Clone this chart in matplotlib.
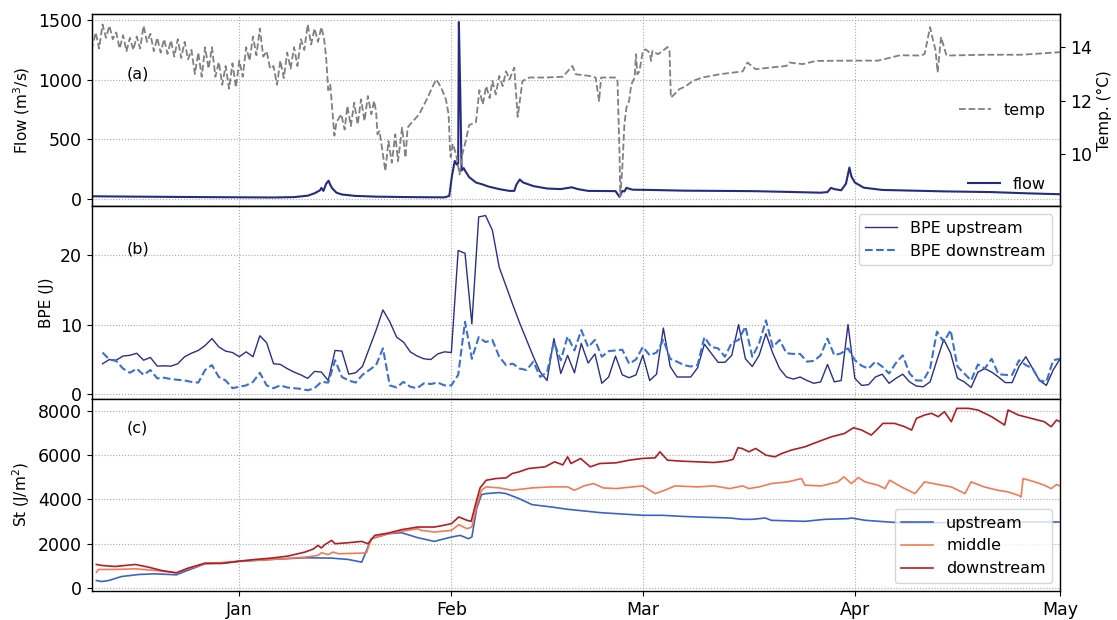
import numpy as np
import pandas as pd
import matplotlib
matplotlib.use('Agg')
import matplotlib.pyplot as plt
import matplotlib.dates as mdates

# time axis: days counted from 1 Jan 2017 (negative = December 2016)
T0 = pd.Timestamp('2017-01-01')

# ---- panel (a): river flow and water temperature ----
flow_days = [-21.6, -15, -5, 5, 8, 10, 11, 11.8, 12.0, 12.3, 12.7, 13.05, 13.3, 13.6, 14.2,
             15, 17, 20, 25, 30, 30.7, 31.1, 31.5, 31.8, 32.0, 32.1, 32.3, 32.5, 32.8, 33.1,
             33.6, 34.6, 35.5, 36.5, 38, 39.5, 40.2, 40.5, 41.0, 41.5, 43, 45, 47, 48.6,
             49.5, 51, 55, 55.6, 56.0, 56.3, 56.6, 57.5, 60, 65, 70, 75, 80, 85, 86.0,
             86.5, 87.0, 88.0, 88.7, 89.0, 89.2, 89.5, 90, 91.3, 94, 100, 103, 110, 115, 120]
flow_vals = [25, 22, 18, 15, 18, 30, 50, 75, 95, 70, 130, 155, 120, 90, 55,
             40, 28, 22, 18, 16, 28, 200, 320, 290, 300, 1480, 900, 240, 260, 230,
             185, 140, 125, 105, 85, 70, 70, 120, 165, 140, 110, 90, 85, 100,
             85, 70, 68, 20, 70, 65, 95, 80, 78, 72, 70, 68, 62, 55, 60,
             95, 85, 75, 130, 210, 265, 190, 140, 97, 78, 70, 66, 60, 50, 42]

temp_days = [-21.6, -21.0, -20.5, -20.0, -19.5, -19.0, -18.5, -18.0, -17.5, -17.0, -16.5,
             -16.0, -15.5, -15.0, -14.5, -14.0, -13.5, -13.0, -12.5, -12.0, -11.5, -11.0,
             -10.5, -10.0, -9.5, -9.0, -8.5, -8.0, -7.5, -7.0, -6.5, -6.0, -5.5, -5.0,
             -4.5, -4.0, -3.5, -3.0, -2.5, -2.0, -1.5, -1.0, -0.5, 0.0, 0.5, 1.0, 1.5,
             2.0, 2.5, 3.0, 3.5, 4.0, 4.5, 5.0, 5.5, 6.0, 6.5, 7.0, 7.5, 8.0, 8.5, 9.0,
             9.5, 10.0, 10.5, 11.0, 11.5, 12.0, 12.4, 12.7, 13.0, 13.3, 13.9, 14.2,
             14.9, 15.4, 15.8, 16.3, 16.8, 17.3, 17.8, 18.3, 18.8, 19.3, 19.7, 20.0,
             20.2, 20.5, 21.35, 21.8, 22.3, 22.8, 23.2, 23.8, 24.3, 24.6, 24.9, 26.3,
             27.3, 28.3, 28.8, 29.5, 30.2, 30.6, 30.8, 30.9, 31.2, 31.7, 32.2, 32.6,
             33.1, 33.6, 34.6, 35.1, 35.6, 36.1, 36.6, 37.0, 37.5, 38.0, 38.5, 39.0,
             39.5, 40.2, 40.7, 41.4, 42.4, 44.8, 47.3, 48.7, 49.2, 51.2, 52.1, 52.6,
             52.9, 55.1, 55.3, 55.6, 55.7, 56.0, 56.3, 56.6, 57.0, 57.3, 57.8, 58.0,
             58.2, 58.5, 59.0, 59.4, 60.0, 60.2, 60.4, 61.2, 61.9, 62.6, 62.9, 63.1,
             63.6, 64.3, 65.3, 66.3, 67.7, 70.2, 73.6, 74.3, 75.5, 77.5, 80.0, 80.4,
             82.4, 84.3, 90.0, 93.4, 96.6, 99.7, 100.2, 101.0, 101.4, 101.8, 102.1,
             102.6, 103.4, 109.2, 114.4, 119.7, 120.0]
temp_vals = [13.9, 14.55, 13.95, 14.85, 14.35, 14.8, 14.3, 14.55, 13.95, 14.45, 13.85,
             14.35, 13.9, 14.4, 13.95, 14.8, 14.2, 14.5, 13.85, 14.35, 13.8, 14.3,
             13.75, 14.25, 13.65, 14.3, 13.6, 14.2, 13.55, 13.9, 13.0, 13.8, 12.9, 14.0,
             13.2, 14.0, 12.9, 13.45, 12.6, 13.3, 12.45, 13.4, 12.5, 13.5, 12.9, 14.0, 13.5,
             14.4, 13.7, 14.7, 13.65, 13.85, 13.2, 13.3, 12.6, 13.5, 12.85, 13.8, 13.2, 14.0, 13.3, 14.3,
             13.9, 14.85, 14.1, 14.7, 14.2, 14.75, 14.3, 13.6, 12.4, 12.6, 10.7, 11.2,
             11.5, 10.93, 11.81, 11.06, 11.93, 11.12, 12.06, 11.25, 12.18, 11.5, 12.0, 11.6,
             10.75, 10.87, 9.38, 10.5, 9.69, 10.75, 9.75, 11.0, 9.88, 11.0, 11.1, 11.5,
             12.0, 12.55, 12.8, 12.5, 12.06, 11.5, 10.25, 9.9, 10.4, 10.0, 9.25, 10.0,
             10.5, 11.1, 11.2, 12.4, 11.87, 12.55, 12.1, 12.74, 12.24, 12.93, 12.55, 13.1,
             12.8, 13.24, 11.4, 12.74, 12.87, 12.87, 12.9, 13.3, 12.99, 12.93, 12.87, 11.99,
             12.87, 12.87, 12.74, 9.9, 8.44, 9.5, 11.1, 11.75, 12.0, 12.6, 12.87, 13.74,
             12.99, 13.1, 13.86, 13.92, 13.8, 13.49, 13.86, 13.74, 13.86, 14.01, 13.86, 12.12,
             12.24, 12.43, 12.55, 12.74, 12.87, 12.99, 13.1, 13.43, 13.18, 13.24, 13.3, 13.43,
             13.37, 13.49, 13.5, 13.5, 13.7, 13.69, 13.75, 14.75, 14.3, 13.88, 13.06,
             14.38, 13.69, 13.72, 13.72, 13.81, 13.82]

# ---- panel (b): daily BPE, 12 Dec 2016 .. 1 May 2017 ----
bpe_days = np.arange(-20, 121)
bpe_upstream = [4.4, 5.0, 4.9, 5.5, 5.6, 5.9, 4.9, 5.3, 4.05, 4.1,
                4.05, 4.4, 5.4, 5.9, 6.3, 7.0, 8.0, 6.8, 6.2, 6.0,
                5.4, 6.1, 5.4, 8.4, 7.4, 4.4, 4.3, 3.7, 3.2, 2.8,
                2.3, 3.3, 3.2, 2.0, 6.3, 6.2, 2.9, 3.1, 4.0, 6.6,
                9.2, 12.1, 10.4, 8.2, 7.5, 6.1, 5.5, 5.1, 5.0, 5.8,
                6.1, 6.0, 20.6, 20.2, 10.1, 25.4, 25.6, 23.5, 18.2,
                15.5, 12.8, 10.2, 7.8, 5.4, 3.2, 2.0,
                8.0, 3.0, 5.6, 3.1, 7.3, 4.5, 5.8, 1.6, 2.5, 5.5,
                2.8, 2.4, 2.8, 5.6, 2.0, 2.9, 9.5, 4.0, 2.5, 2.5,
                2.5, 3.8, 7.2, 5.9, 4.6, 4.6, 5.6, 10.0, 5.1, 4.0,
                5.6, 8.7, 5.9, 3.7, 2.5, 2.2, 2.5, 2.0, 1.6, 1.8,
                4.3, 1.8, 2.0, 10.0, 2.3, 1.3, 1.4, 2.5, 2.9, 1.6,
                2.3, 2.9, 1.8, 1.2, 1.1, 1.8, 4.9, 7.9, 5.9, 2.3,
                1.8, 1.0, 3.2, 3.7, 3.2, 2.5, 1.7, 1.7, 4.0, 5.4,
                3.7, 2.0, 1.3, 3.5, 5.1]
bpe_downstream = [6.0, 5.0, 4.8, 3.7, 3.1, 3.7, 2.8, 3.5, 2.3, 2.4,
                  2.2, 2.1, 2.0, 1.8, 1.7, 3.5, 4.2, 2.5, 2.0, 0.9,
                  1.1, 1.3, 1.8, 3.1, 1.3, 0.9, 1.3, 1.0, 0.9, 0.8,
                  0.6, 0.9, 1.8, 1.7, 4.9, 2.5, 2.0, 1.7, 2.8, 3.5,
                  4.2, 6.6, 1.3, 1.0, 1.8, 1.1, 0.9, 1.6, 1.5, 1.7,
                  1.3, 1.3, 2.8, 10.4, 5.1, 8.2, 7.5, 7.8, 5.4, 4.2,
                  4.4, 3.7, 3.5, 4.7, 2.5, 3.2,
                  7.5, 4.9, 8.3, 6.3, 9.2, 6.8, 7.8, 5.4, 6.2, 6.3,
                  6.4, 4.4, 5.0, 6.8, 5.6, 6.0, 7.8, 5.1, 4.7, 4.2,
                  4.0, 4.2, 8.2, 6.8, 6.6, 5.4, 7.4, 7.8, 9.7, 5.4,
                  7.3, 10.6, 6.8, 7.8, 5.9, 5.8, 5.8, 4.7, 4.8, 5.6,
                  8.0, 5.6, 5.9, 6.6, 4.9, 4.1, 3.7, 4.7, 4.0, 3.0,
                  4.5, 5.6, 3.0, 2.0, 2.0, 3.7, 9.0, 7.5, 9.2, 4.0,
                  3.0, 2.0, 4.3, 3.7, 5.1, 2.9, 2.8, 2.8, 4.9, 4.2,
                  3.7, 2.0, 1.8, 4.9, 5.1]

# ---- panel (c): St at three stations ----
st_up_days = [-20.9, -20.1, -19.1, -17.2, -14.7, -12.3, -9.2, -8.0, -5.0, -2.6, 0, 4.7,
              9.6, 13.5, 15.9, 17.9, 19.3, 21.8, 23.7, 26.1, 28.5, 31, 32.3, 33.5, 34.0,
              34.7, 35.4, 36.1, 38, 39, 40.9, 42.8, 45.6, 48, 50.4, 52.8, 55.1, 57.5, 59,
              61.8, 64.6, 67, 71.7, 73.6, 75, 76.9, 77.8, 82.7, 85.6, 89.0, 89.5, 91.5,
              94.9, 97.3, 102.2, 107, 112, 120]
st_up = [332, 287, 332, 513, 604, 634, 589, 739, 1086, 1117, 1192, 1283,
         1358, 1343, 1283, 1162, 2218, 2445, 2490, 2264, 2098, 2294, 2369, 2218, 2294,
         3576, 4210, 4255, 4300, 4255, 4029, 3757, 3652, 3546, 3471, 3395, 3350, 3305, 3275,
         3275, 3229, 3199, 3154, 3093, 3093, 3154, 3048, 3003, 3093, 3124, 3154, 3050,
         2973, 2927, 2942, 2973, 2973, 2973]

st_mid_days = [-20.9, -20.6, -18.2, -15.2, -12.3, -9.2, -7.5, -5.0, 0, 4.7, 9.6, 11.5,
               12.0, 13.0, 13.7, 14.5, 17.9, 18.6, 19.3, 21.8, 23.7, 26.1, 26.6, 28.5, 31,
               32.1, 33.3, 34, 34.7, 35.4, 36.1, 38, 39.9, 42.8, 45.6, 48, 49, 50.4, 51.8,
               53.2, 55.1, 57.5, 59, 60.8, 62.2, 63.7, 67, 69.4, 71.7, 73.6, 74.5, 76, 77.8,
               80.2, 82.2, 82.7, 85.1, 87.5, 88.4, 89.5, 90.5, 91.5, 93.4, 94.4, 95.1, 96.8,
               98.8, 100.2, 102.2, 104.1, 106.1, 107, 108.9, 110.9, 112.4, 113.9, 114.3,
               114.6, 116.3, 117.7, 118.7, 119.5, 120]
st_mid = [709, 830, 830, 860, 785, 679, 860, 1086, 1207, 1283, 1388, 1464,
          1585, 1500, 1615, 1539, 1569, 1585, 2218, 2445, 2550, 2671, 2595, 2520, 2595,
          2852, 2671, 2746, 3700, 4406, 4557, 4512, 4406, 4512, 4557, 4557, 4406, 4602, 4708,
          4512, 4482, 4557, 4602, 4255, 4406, 4602, 4557, 4602, 4482, 4602, 4482, 4557, 4708,
          4784, 4935, 4633, 4602, 4784, 5010, 4708, 4980, 4784, 4633, 4482, 4859, 4557,
          4255, 4784, 4663, 4557, 4255, 4784, 4557, 4406, 4331, 4180, 4104,
          4935, 4784, 4633, 4482, 4663, 4600]

st_down_days = [-20.9, -20.1, -18.2, -15.2, -13.3, -11.35, -9.2, -7.5, -5.0, -2.6, 0, 2.3,
                4.7, 7.1, 9.6, 10.8, 11.5, 12.0, 12.5, 13.5, 14.0, 15.9, 17.9, 18.8, 19.8,
                21.8, 23.7, 26.1, 28.5, 29.5, 31, 32.1, 33.3, 33.9, 34.5, 35.2, 36.1, 37.5,
                39, 39.9, 40.9, 42.3, 44.7, 46.1, 47.3, 48, 48.5, 49.9, 51.3, 52.7, 55.1, 57.0,
                58.9, 60.8, 61.5, 62.6, 64.6, 67, 69.4, 71.2, 72.2, 72.9, 73.5, 74.5, 75.5, 77,
                78.3, 79.2, 80.7, 82.7, 84.6, 86.6, 88.5, 89.8, 91, 92.4, 93.4, 94.1, 95.8,
                97.3, 98.3, 99, 100.2, 101.2, 102.2, 103.1, 104.1, 104.9, 106.6, 108, 110,
                111.9, 112.4, 113.9, 115.8, 117.7, 118.7, 119.5, 120]
st_down = [1056, 1011, 966, 1056, 935, 785, 679, 890, 1117, 1100, 1207, 1283,
           1343, 1434, 1615, 1750, 1916, 1800, 1950, 2143, 1992, 2037, 2097, 1992, 2369,
           2475, 2626, 2746, 2746, 2800, 2897, 3199, 3048, 3003, 3727, 4512, 4859, 4934,
           4965, 5161, 5236, 5387, 5463, 5689, 5550, 5915, 5613, 5840, 5463, 5613, 5644, 5764,
           5840, 5870, 6142, 5764, 5719, 5689, 5659, 5719, 5800, 6323, 6293, 6142, 6293, 5990,
           5915, 6050, 6218, 6368, 6594, 6821, 6972, 7228, 7122, 6896, 7198, 7424, 7424,
           7273, 7122, 7650, 7801, 7877, 7726, 7952, 7499, 8103, 8103, 8028, 7726,
           7349, 8028, 7801, 7650, 7499, 7273, 7575, 7500]


def to_dates(days):
    return T0 + pd.to_timedelta(np.asarray(days, dtype=float), unit='D')


plt.rcParams['font.family'] = 'DejaVu Sans'

fig = plt.figure(figsize=(11.17, 6.2), dpi=100)
gs = fig.add_gridspec(3, 1, hspace=0, left=0.082, right=0.949, top=0.977, bottom=0.047)
ax_a = fig.add_subplot(gs[0])
ax_b = fig.add_subplot(gs[1], sharex=ax_a)
ax_c = fig.add_subplot(gs[2], sharex=ax_a)

TICK_FS = 12.5
LAB_FS = 11
LEG_FS = 11.5
grid_kw = dict(linestyle=':', color='#a8a8a8', linewidth=0.8)

# (a)
ax_a.plot(to_dates(flow_days), flow_vals, color='#252b80', lw=1.5, label='flow')
ax_a.set_ylim(-60, 1545)
ax_a.set_yticks([0, 500, 1000, 1500])
ax_a.set_ylabel('Flow (m$^3$/s)', fontsize=LAB_FS)
ax_t = ax_a.twinx()
ax_t.plot(to_dates(temp_days), temp_vals, color='#808080', lw=1.3, ls='--', label='temp')
ax_t.set_ylim(8.06, 15.23)
ax_t.set_yticks([10, 12, 14])
ax_t.set_ylabel('Temp. (°C)', fontsize=LAB_FS)
ax_t.tick_params(labelsize=TICK_FS)
ax_t.legend(loc='center right', frameon=False, fontsize=LEG_FS)
ax_a.legend(loc='lower right', frameon=False, fontsize=LEG_FS)
ax_a.text(0.036, 0.69, '(a)', transform=ax_a.transAxes, fontsize=LEG_FS, va='center')

# (b)
bpe_dates = to_dates(bpe_days)
ax_b.plot(bpe_dates, bpe_upstream, color='#2a2f88', lw=1.0, label='BPE upstream')
ax_b.plot(bpe_dates, bpe_downstream, color='#3b6fd0', lw=1.5, ls='--', label='BPE downstream')
ax_b.set_ylim(-0.6, 26.9)
ax_b.set_yticks([0, 10, 20])
ax_b.set_ylabel('BPE (J)', fontsize=LAB_FS)
ax_b.legend(loc='upper right', fontsize=LEG_FS)
ax_b.text(0.036, 0.78, '(b)', transform=ax_b.transAxes, fontsize=LEG_FS, va='center')

# (c)
ax_c.plot(to_dates(st_up_days), st_up, color='#3a64c8', lw=1.2, label='upstream')
ax_c.plot(to_dates(st_mid_days), st_mid, color='#f47a55', lw=1.2, label='middle')
ax_c.plot(to_dates(st_down_days), st_down, color='#b01f24', lw=1.2, label='downstream')
ax_c.set_ylim(-135, 8540)
ax_c.set_yticks([0, 2000, 4000, 6000, 8000])
ax_c.set_ylabel('St (J/m$^2$)', fontsize=LAB_FS)
ax_c.legend(loc='lower right', fontsize=LEG_FS, framealpha=0.8)
ax_c.text(0.036, 0.845, '(c)', transform=ax_c.transAxes, fontsize=LEG_FS, va='center')

ax_c.set_xlim(to_dates([-21.6])[0], pd.Timestamp('2017-05-01'))
ax_c.xaxis.set_major_locator(mdates.MonthLocator())
ax_c.xaxis.set_major_formatter(mdates.DateFormatter('%b'))

for ax in (ax_a, ax_b, ax_c):
    ax.grid(True, **grid_kw)
    ax.tick_params(labelsize=TICK_FS)
    for sp in ax.spines.values():
        sp.set_linewidth(1.0)
for ax in (ax_a, ax_b):
    plt.setp(ax.get_xticklabels(), visible=False)

fig.savefig('out.png', dpi=100, facecolor='white')
